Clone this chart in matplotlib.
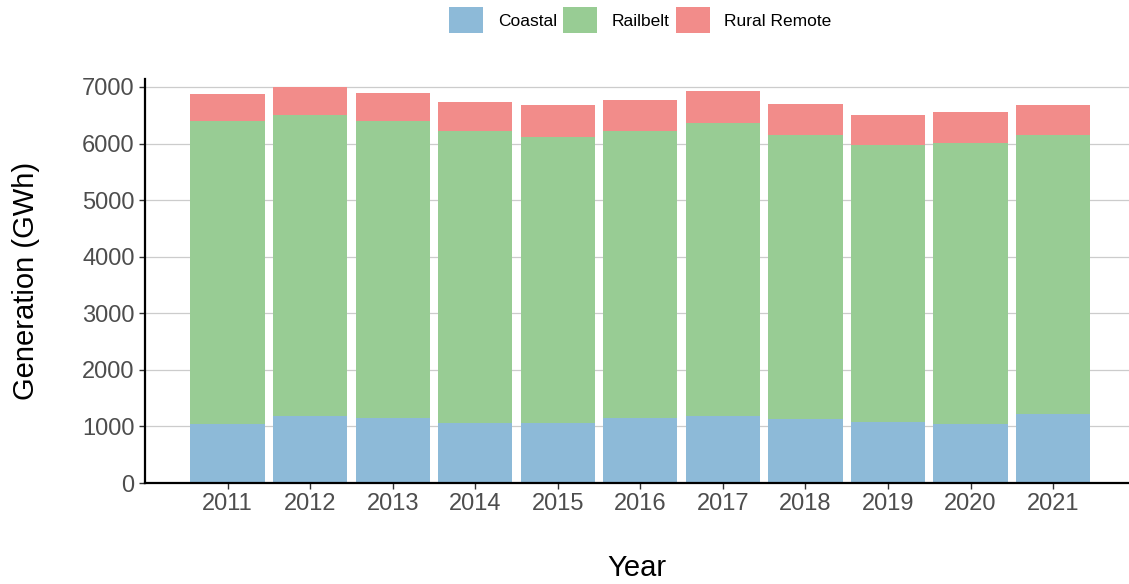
import matplotlib
matplotlib.use("Agg")
import matplotlib.pyplot as plt
import numpy as np

plt.rcParams['font.family'] = ['Liberation Sans', 'DejaVu Sans']

# values (GWh)
years = [2011, 2012, 2013, 2014, 2015, 2016, 2017, 2018, 2019, 2020, 2021]
coastal = [1041, 1182, 1147, 1053, 1053, 1147, 1182, 1124, 1076, 1041, 1218]
railbelt = [5350, 5315, 5244, 5161, 5067, 5080, 5186, 5032, 4890, 4973, 4925]
rural_remote = [490, 508, 508, 526, 567, 548, 566, 548, 544, 549, 544]

series = ["Coastal", "Railbelt", "Rural Remote"]
colors = ["#8DBAD8", "#98CC94", "#F28C8A"]

fig = plt.figure(figsize=(11.29, 5.84), dpi=100)
ax = fig.add_axes([145 / 1129, 101 / 584, 1 - 145 / 1129, 404 / 584])

x = np.array(years)
bottom = np.zeros(len(years))
for name, vals, col in zip(series, [coastal, railbelt, rural_remote], colors):
    ax.bar(x, vals, bottom=bottom, width=0.9, color=col, label=name, zorder=2)
    bottom += np.array(vals)

ax.set_xlim(2010, 2021.92)
ax.set_ylim(0, 7140)
ax.set_xticks(years)
ax.set_xticklabels([str(y) for y in years])
ax.set_yticks(range(0, 7001, 1000))

ax.yaxis.grid(True, color="#CCCCCC", linewidth=0.9, zorder=0)
ax.set_axisbelow(True)
for s in ["top", "right"]:
    ax.spines[s].set_visible(False)
for s in ["left", "bottom"]:
    ax.spines[s].set_color("black")
    ax.spines[s].set_linewidth(1.6)

ax.tick_params(axis="both", labelsize=17, labelcolor="#4D4D4D", color="#333333",
               length=4, width=1)

ax.set_xlabel("Year", fontsize=21, labelpad=28)
ax.set_ylabel("Generation (GWh)", fontsize=21, labelpad=30)

fig.legend(loc="center", bbox_to_anchor=(640.5 / 1129, 1 - 20 / 584), ncol=3,
           frameon=False, fontsize=12.5, handlelength=1.95, handleheight=1.95,
           handletextpad=0.85, columnspacing=0.35)

fig.savefig("out.png", dpi=100)
